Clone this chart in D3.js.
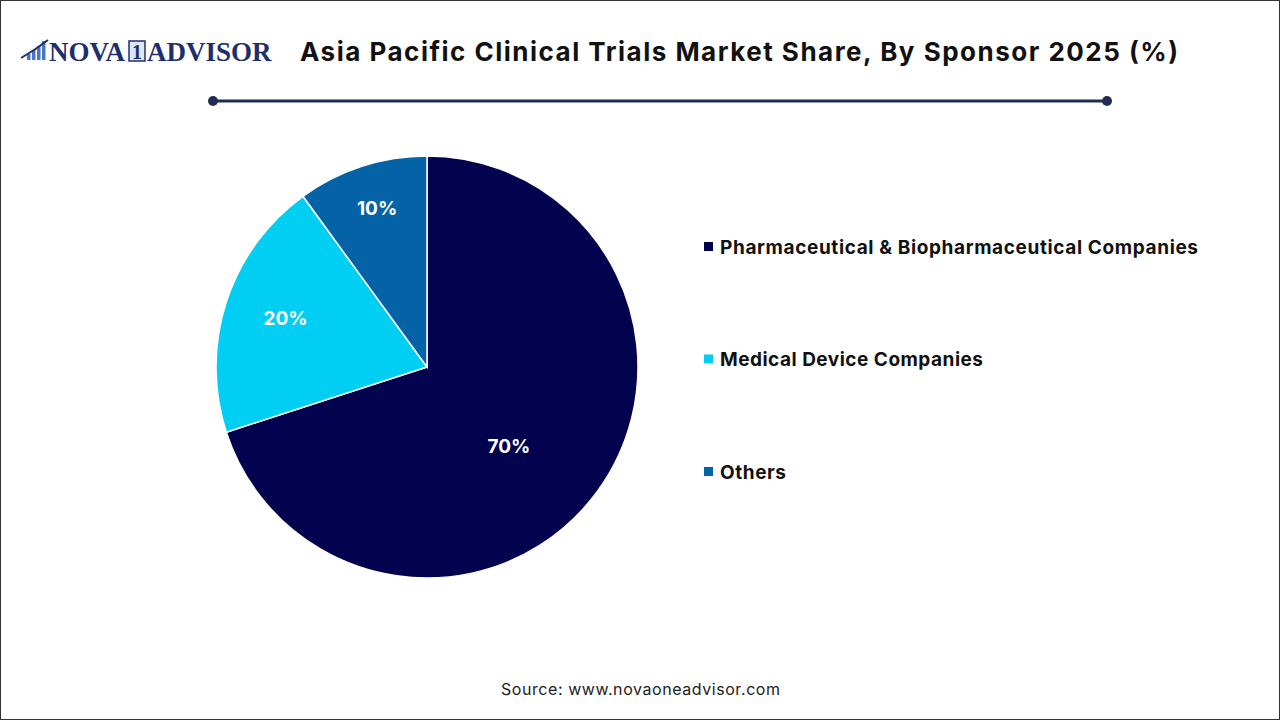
<!DOCTYPE html>
<html><head><meta charset="utf-8">
<script src="https://cdn.jsdelivr.net/npm/d3@7"></script>
<style>body{margin:0;background:#fff}svg{display:block}</style>
</head><body>
<script>
const categories = ["Pharmaceutical & Biopharmaceutical Companies", "Medical Device Companies", "Others"];
const values = [70, 20, 10];
const labels = ["70%", "20%", "10%"];
const colors = ["#03024E", "#00CFF3", "#0462A6"];

const W = 1280, H = 720;
const FONT = "Inter, Liberation Sans, sans-serif";
const svg = d3.select("body").append("svg").attr("width", W).attr("height", H);
svg.append("rect").attr("x", 0.5).attr("y", 0.5).attr("width", W - 1).attr("height", H - 1)
  .attr("fill", "#fff").attr("stroke", "#333").attr("stroke-width", 1);

// Logo
const logo = svg.append("g");
const barsH = [6, 10, 14, 19];
barsH.forEach((h, i) => {
  logo.append("rect").attr("x", 27 + i * 5).attr("y", 60 - h).attr("width", 3.5).attr("height", h).attr("fill", "#4a78c0");
});
logo.append("path").attr("d", "M21,58 Q35,50 48,40").attr("stroke", "#1f2f6b").attr("stroke-width", 2).attr("fill", "none");
logo.append("text").attr("x", 49).attr("y", 61).attr("font-family", "Liberation Serif, serif").attr("font-weight", "bold")
  .attr("font-size", 27).attr("fill", "#1f2f6b").text("NOVA");
logo.append("rect").attr("x", 129).attr("y", 41).attr("width", 16).attr("height", 20).attr("fill", "#dfe6f3").attr("stroke", "#1f2f6b").attr("stroke-width", 1.5);
logo.append("text").attr("x", 137).attr("y", 59).attr("text-anchor", "middle").attr("font-family", "Liberation Serif, serif").attr("font-weight", "bold")
  .attr("font-size", 20).attr("fill", "#1f2f6b").text("1");
logo.append("text").attr("x", 147).attr("y", 61).attr("font-family", "Liberation Serif, serif").attr("font-weight", "bold")
  .attr("font-size", 27).attr("fill", "#1f2f6b").text("ADVISOR");

// Title
svg.append("text").attr("x", 300).attr("y", 61)
  .attr("font-family", FONT).attr("font-weight", "bold").attr("font-size", 26)
  .attr("textLength", 878).attr("lengthAdjust", "spacing")
  .attr("fill", "#111").text("Asia Pacific Clinical Trials Market Share, By Sponsor 2025 (%)");

// Divider
svg.append("line").attr("x1", 213).attr("x2", 1107).attr("y1", 101).attr("y2", 101).attr("stroke", "#232c55").attr("stroke-width", 3);
[213, 1107].forEach(x => svg.append("circle").attr("cx", x).attr("cy", 101).attr("r", 5).attr("fill", "#232c55"));

// Pie
const cx = 427, cy = 367, R = 211;
const pie = d3.pie().sort(null).value(d => d)(values);
const arc = d3.arc().innerRadius(0).outerRadius(R);
const g = svg.append("g").attr("transform", `translate(${cx},${cy})`);
g.selectAll("path").data(pie).join("path").attr("d", arc)
  .attr("fill", (d, i) => colors[i]).attr("stroke", "#fff").attr("stroke-width", 1.5);
// label placement (radius fraction, angle shift in radians) per slice
const labelPlace = [[0.54, 0.14], [0.71, 0.02], [0.79, 0.01]];
g.selectAll("text").data(pie).join("text")
  .attr("transform", (d, i) => {
    const a = (d.startAngle + d.endAngle) / 2 + labelPlace[i][1];
    const r = R * labelPlace[i][0];
    return `translate(${r * Math.sin(a)},${-r * Math.cos(a)})`;
  })
  .attr("text-anchor", "middle").attr("dy", "0.35em")
  .attr("font-family", FONT).attr("font-weight", "bold").attr("font-size", 19)
  .attr("fill", "#fff").text((d, i) => labels[i]);

// Legend
const ly = d3.scalePoint().domain(categories).range([247, 472]);
const legLen = [478, 263, 66];
const leg = svg.append("g");
categories.forEach((c, i) => {
  leg.append("rect").attr("x", 704).attr("y", ly(c) - 5).attr("width", 9).attr("height", 9).attr("fill", colors[i]);
  leg.append("text").attr("x", 720).attr("y", ly(c)).attr("dy", "0.36em")
    .attr("font-family", FONT).attr("font-weight", "bold").attr("font-size", 19)
    .attr("textLength", legLen[i]).attr("lengthAdjust", "spacing")
    .attr("fill", "#111").text(c);
});

// Source
svg.append("text").attr("x", 501).attr("y", 689).attr("dy", "0.35em")
  .attr("font-family", FONT).attr("font-size", 16).attr("fill", "#222")
  .attr("textLength", 279).attr("lengthAdjust", "spacing")
  .text("Source: www.novaoneadvisor.com");
</script>
</body></html>
